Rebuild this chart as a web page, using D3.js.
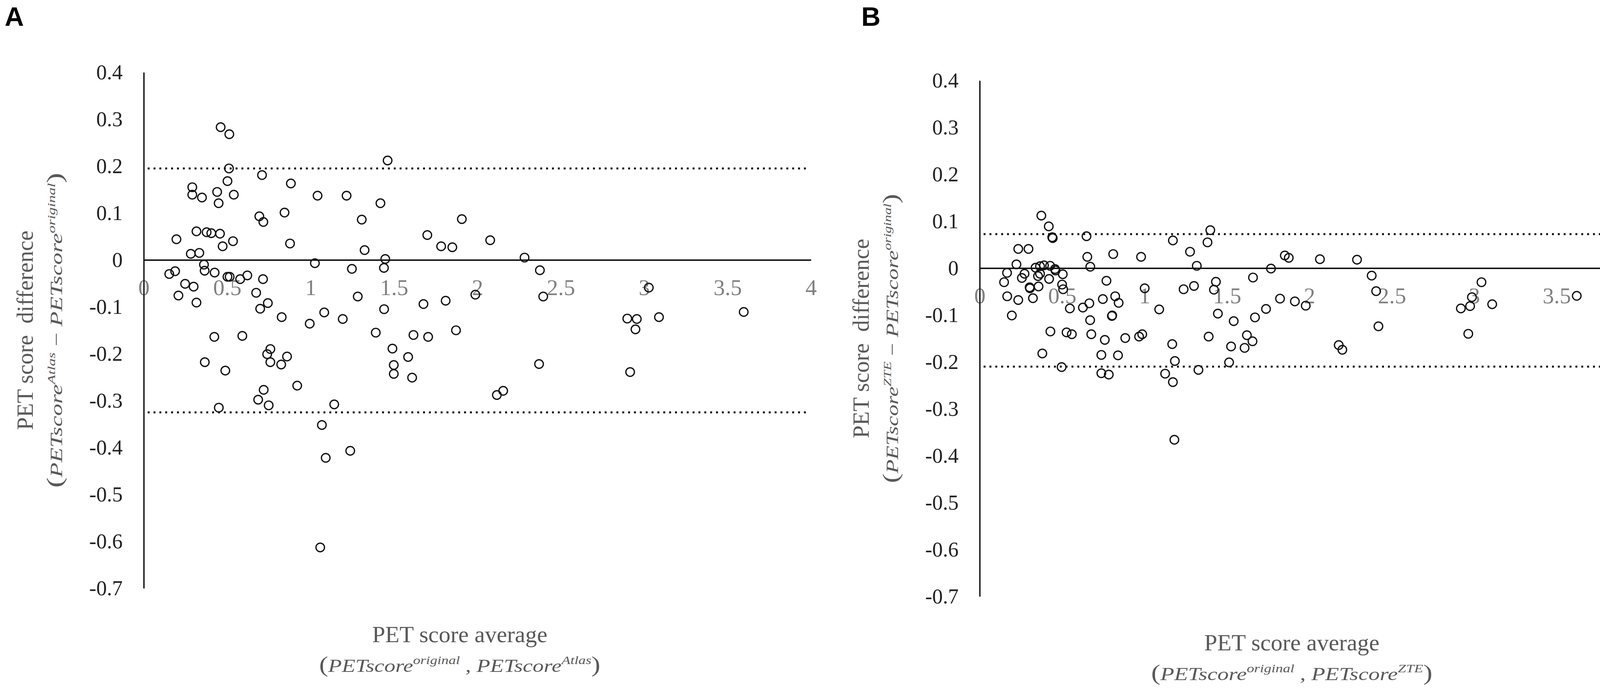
<!DOCTYPE html>
<html><head><meta charset="utf-8">
<script src="https://cdn.jsdelivr.net/npm/d3@7/dist/d3.min.js"></script>
<style>html,body{margin:0;padding:0;background:#fff;overflow:hidden;} svg{display:block;}</style>
</head><body>
<svg id="chart" width="4228" height="1773"></svg>
<script>
// ---------- DATA ----------
const xTicks = [0, 0.5, 1, 1.5, 2, 2.5, 3, 3.5, 4];
const yTicks = [0.4, 0.3, 0.2, 0.1, 0, -0.1, -0.2, -0.3, -0.4, -0.5, -0.6, -0.7];

// Panel A: Atlas vs original (average, difference)
const atlasAvg = [
  0.461,0.513,1.462,0.511,0.709,0.882,0.502,0.291,0.291,0.349,0.440,0.449,0.540,1.042,1.216,1.419,
  0.844,0.693,0.717,1.307,0.316,0.377,0.405,0.457,0.196,0.535,0.473,0.877,1.324,0.282,0.333,1.448,
  1.026,0.361,1.440,1.248,0.365,0.188,0.153,0.425,0.502,0.515,0.578,0.621,0.715,0.248,0.299,0.208,
  0.316,0.674,0.744,0.698,0.827,1.283,1.082,0.995,1.193,1.441,1.391,0.423,0.591,1.491,
  0.366,0.489,0.759,0.740,0.759,0.824,0.859,0.920,0.719,0.686,0.749,0.450,1.142,1.068,1.238,1.091,1.058,
  1.907,1.700,1.783,1.850,2.077,2.283,2.375,1.988,1.810,1.677,2.395,3.028,3.597,2.899,2.956,2.948,
  3.089,1.872,1.617,1.705,1.585,1.499,1.499,1.609,2.370,2.916,2.117,2.155
];
const atlasDiff = [
  0.283,0.268,0.212,0.195,0.181,0.163,0.168,0.155,0.139,0.133,0.145,0.121,0.139,0.137,0.137,0.121,
  0.101,0.093,0.081,0.086,0.061,0.059,0.057,0.056,0.044,0.040,0.029,0.035,0.021,0.013,0.015,0.002,
  -0.007,-0.010,-0.017,-0.019,-0.023,-0.024,-0.030,-0.027,-0.036,-0.036,-0.041,-0.033,-0.041,-0.051,-0.057,-0.076,
  -0.091,-0.070,-0.092,-0.104,-0.122,-0.078,-0.112,-0.136,-0.126,-0.105,-0.155,-0.164,-0.162,-0.189,
  -0.218,-0.236,-0.190,-0.201,-0.218,-0.223,-0.206,-0.268,-0.277,-0.298,-0.310,-0.315,-0.308,-0.352,-0.407,-0.422,-0.613,
  0.087,0.053,0.029,0.027,0.042,0.005,-0.022,-0.074,-0.087,-0.094,-0.078,-0.059,-0.111,-0.125,-0.126,-0.148,
  -0.122,-0.150,-0.160,-0.164,-0.207,-0.224,-0.243,-0.251,-0.222,-0.239,-0.288,-0.279
];
const atlasLimits = [0.195, -0.325];

// Panel B: ZTE vs original (average, difference)
const zteAvg = [
  0.374,0.419,0.443,0.440,0.648,1.172,0.234,0.296,0.810,0.979,0.653,0.223,0.671,0.339,0.366,0.390,
  0.427,0.457,0.166,0.272,0.256,0.354,0.366,0.421,0.460,0.504,0.148,0.500,0.506,0.303,0.305,0.357,
  0.769,1.001,0.167,0.234,0.323,0.747,0.822,0.843,0.665,0.626,0.547,1.089,0.195,0.804,0.802,0.670,
  0.429,0.527,0.559,0.677,0.759,0.883,0.967,0.986,1.168,0.380,0.738,0.839,1.184,0.497,0.738,0.783,
  1.125,1.172,
  1.399,1.382,1.276,1.317,1.851,1.875,2.064,2.289,1.767,1.658,2.378,1.433,1.237,1.300,1.421,2.405,
  1.822,1.912,1.978,1.737,1.445,1.670,1.541,2.419,1.389,1.621,1.655,1.525,1.607,2.178,2.200,1.513,
  1.327,1.181,
  3.044,2.986,2.975,2.919,3.109,2.964,3.622
];
const zteDiff = [
  0.112,0.089,0.064,0.066,0.068,0.059,0.041,0.041,0.030,0.024,0.024,0.008,0.003,0.001,0.004,0.006,
  0.005,-0.002,-0.010,-0.012,-0.021,-0.017,-0.012,-0.023,-0.005,-0.013,-0.030,-0.035,-0.045,-0.041,-0.043,-0.039,
  -0.027,-0.043,-0.060,-0.068,-0.064,-0.066,-0.060,-0.074,-0.075,-0.084,-0.086,-0.088,-0.101,-0.101,-0.102,-0.111,
  -0.135,-0.137,-0.141,-0.141,-0.153,-0.149,-0.146,-0.141,-0.162,-0.182,-0.185,-0.186,-0.198,-0.211,-0.224,-0.227,
  -0.225,-0.243,
  0.081,0.055,0.035,0.005,0.027,0.022,0.019,0.018,-0.001,-0.020,-0.016,-0.029,-0.045,-0.038,-0.046,-0.049,
  -0.065,-0.071,-0.080,-0.087,-0.097,-0.105,-0.113,-0.124,-0.146,-0.143,-0.156,-0.167,-0.170,-0.164,-0.174,-0.201,
  -0.217,-0.366,
  -0.030,-0.062,-0.081,-0.086,-0.077,-0.140,-0.059
];
const zteLimits = [0.0725, -0.21];

// ---------- LAYOUT ----------
const svg = d3.select("#chart");
svg.append("rect").attr("width", 4228).attr("height", 1773).attr("fill", "#fff");

const SERIF = "'Liberation Serif', 'Times New Roman', serif";
const panels = [
  { letter: "A", letterX: 12, left: 368, right: 2076, top: 185, bottom: 1505,
    avg: atlasAvg, diff: atlasDiff, limits: atlasLimits, method: "Atlas", yLen2: 806 },
  { letter: "B", letterX: 2205, left: 2508, right: 4196, top: 206, bottom: 1526,
    avg: zteAvg, diff: zteDiff, limits: zteLimits, method: "ZTE", yLen2: 740 }
];

function richLine(sel, parts, supSize, shift) {
  // parts: [text, kind] kind: 'p' paren, 'i' italic, 's' superscript, 'n' normal
  let cur = 0;
  parts.forEach(([t, k]) => {
    const ts = sel.append("tspan").text(t);
    let target = 0;
    if (k === "s") { ts.attr("font-size", supSize).attr("font-style", "italic"); target = -shift; }
    else if (k === "i") { ts.attr("font-style", "italic"); }
    else if (k === "p") { ts.attr("font-style", "normal").attr("font-size", 56); }
    else { ts.attr("font-style", "normal"); }
    if (target !== cur) { ts.attr("dy", target - cur); cur = target; }
  });
}

panels.forEach(p => {
  const x = d3.scaleLinear().domain([0, 4]).range([p.left, p.right]);
  const y = d3.scaleLinear().domain([0.4, -0.7]).range([p.top, p.bottom]);
  const g = svg.append("g");

  // x axis (zero line + grey labels)
  const xa = g.append("g").attr("transform", `translate(0,${y(0)})`)
    .call(d3.axisBottom(x).tickValues(xTicks).tickSize(0).tickPadding(0).tickFormat(d => String(d)));
  xa.select(".domain").attr("stroke", "#000").attr("stroke-width", 3.5);
  xa.selectAll(".tick text")
    .attr("y", 90).attr("dy", 0)
    .attr("fill", "#808080").attr("font-size", 58).attr("font-family", SERIF);

  // limits of agreement (dotted)
  g.selectAll("line.limit").data(p.limits).join("line")
    .attr("class", "limit")
    .attr("x1", x(0) + 10).attr("x2", x(4) - 6)
    .attr("y1", d => y(d)).attr("y2", d => y(d))
    .attr("stroke", "#111").attr("stroke-width", 5).attr("stroke-dasharray", "5 10");

  // y axis
  const ya = g.append("g").attr("transform", `translate(${x(0)},0)`)
    .call(d3.axisLeft(y).tickValues(yTicks).tickSize(0).tickPadding(54).tickFormat(d => String(d)));
  ya.select(".domain").attr("stroke", "#111").attr("stroke-width", 3.5);
  ya.selectAll(".tick text")
    .attr("fill", "#222").attr("font-size", 54).attr("font-family", SERIF).attr("dy", "0.33em");

  // points
  g.selectAll("circle.pt").data(d3.zip(p.avg, p.diff)).join("circle")
    .attr("class", "pt")
    .attr("cx", d => x(d[0])).attr("cy", d => y(d[1]))
    .attr("r", 11).attr("fill", "none").attr("stroke", "#111").attr("stroke-width", 3.2);

  // panel letter
  svg.append("text").attr("x", p.letterX).attr("y", 66)
    .attr("font-family", "'Liberation Sans', Arial, sans-serif").attr("font-weight", "bold")
    .attr("font-size", 68).attr("fill", "#000").text(p.letter);

  // y title
  const cy = (p.top + p.bottom) / 2;
  svg.append("text")
    .attr("transform", `translate(${p.left - 284},${cy}) rotate(-90)`)
    .attr("text-anchor", "middle").attr("font-family", SERIF).attr("font-size", 59)
    .attr("fill", "#595959").style("white-space", "pre")
    .text("PET score  difference");
  const y2 = svg.append("text")
    .attr("transform", `translate(${p.left - 209},${cy}) rotate(-90)`)
    .attr("x", -p.yLen2 / 2)
    .attr("textLength", p.yLen2).attr("lengthAdjust", "spacingAndGlyphs")
    .attr("font-family", SERIF).attr("font-size", 44).attr("fill", "#595959")
    .style("white-space", "pre");
  richLine(y2, [["(", "p"], ["PETscore", "i"], [p.method, "s"], [" \u2212 ", "n"],
                ["PETscore", "i"], ["original", "s"], [")", "p"]], 28, 18);

  // x title
  const cx = (p.left + p.right) / 2 - 45;
  svg.append("text")
    .attr("x", cx).attr("y", p.bottom + 138)
    .attr("text-anchor", "middle").attr("font-family", SERIF).attr("font-size", 60)
    .attr("fill", "#595959").text("PET score average");
  const xl2 = 720;
  const x2 = svg.append("text")
    .attr("x", cx - xl2 / 2).attr("y", p.bottom + 214)
    .attr("textLength", xl2).attr("lengthAdjust", "spacingAndGlyphs")
    .attr("font-family", SERIF).attr("font-size", 46).attr("fill", "#595959")
    .style("white-space", "pre");
  richLine(x2, [["(", "p"], ["PETscore", "i"], ["original", "s"], [" , ", "n"],
                ["PETscore", "i"], [p.method, "s"], [")", "p"]], 30, 20);
});
</script>
</body></html>
